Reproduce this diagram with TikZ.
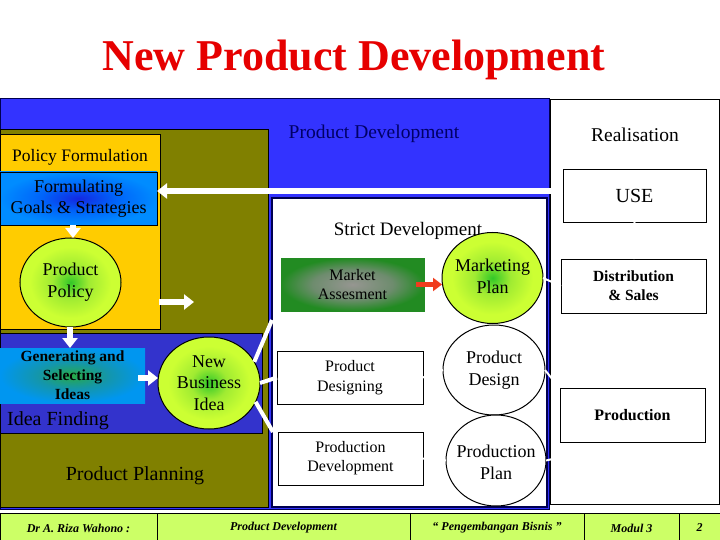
\documentclass[tikz,border=0pt]{standalone}
\usepackage{fontspec}
\setmainfont{Liberation Serif}
\usetikzlibrary{shapes.geometric,arrows.meta}
\definecolor{bigblue}{RGB}{51,51,255}
\definecolor{olivebg}{RGB}{128,128,0}
\definecolor{yelbg}{RGB}{255,204,0}
\definecolor{ideablue}{RGB}{51,51,204}
\definecolor{footg}{RGB}{204,255,102}
\definecolor{titlered}{RGB}{230,0,0}
\definecolor{navytxt}{RGB}{0,0,102}
\definecolor{navyline}{RGB}{0,0,80}
\definecolor{ygout}{RGB}{204,255,51}
\definecolor{ygmid}{RGB}{160,235,50}
\definecolor{ygin}{RGB}{50,200,40}
\definecolor{fbout}{RGB}{0,140,255}
\definecolor{fbmid}{RGB}{0,100,250}
\definecolor{fbin}{RGB}{20,40,225}
\definecolor{gbout}{RGB}{0,150,240}
\definecolor{gbmid}{RGB}{20,150,170}
\definecolor{gbin}{RGB}{40,170,70}
\definecolor{maout}{RGB}{34,139,34}
\definecolor{mamid}{RGB}{110,140,110}
\definecolor{main}{RGB}{150,150,145}
\definecolor{redarrow}{RGB}{240,60,30}
\pgfdeclareradialshading{ballshade}{\pgfpoint{0bp}{0bp}}{color(0bp)=(ygin); color(9bp)=(ygmid); color(20bp)=(ygout); color(50bp)=(ygout)}
\pgfdeclareradialshading{fgshade}{\pgfpoint{0bp}{0bp}}{color(0bp)=(fbin); color(12bp)=(fbmid); color(25bp)=(fbout); color(50bp)=(fbout)}
\pgfdeclareradialshading{gsshade}{\pgfpoint{0bp}{0bp}}{color(0bp)=(gbin); color(12bp)=(gbmid); color(25bp)=(gbout); color(50bp)=(gbout)}
\pgfdeclareradialshading{mashade}{\pgfpoint{0bp}{0bp}}{color(0bp)=(main); color(14bp)=(mamid); color(25bp)=(maout); color(50bp)=(maout)}
\tikzset{
  txtbox/.style={rectangle, draw=black, line width=0.8pt, inner sep=0pt, outer sep=0pt, align=center},
  ball/.style={ellipse, draw=black, line width=1pt, inner sep=0pt, outer sep=0pt},
  greenball/.style={ball, shading=ballshade},
  txt/.style={align=center, inner sep=0pt},
  warrow/.style={draw=white, line width=6.5pt, -{Triangle[length=10pt,width=15pt]}},
  wline/.style={draw=white, line width=4pt},
  hline/.style={draw=white, line width=2pt},
  rarrow/.style={draw=redarrow, line width=5pt, -{Triangle[length=9pt,width=13pt]}},
  foot/.style={font=\fontsize{12}{14}\selectfont\bfseries\itshape, inner sep=0pt}
}
\begin{document}
\begin{tikzpicture}[x=1pt,y=-1pt]
\useasboundingbox (0,0) rectangle (720,540);
\fill[white] (0,0) rectangle (720,540);
% title
\node[txt, text=titlered, font=\fontsize{44}{48}\selectfont\bfseries] (title) at (354,60) {New Product Development};
% regions
\draw[navyline, fill=bigblue, line width=1pt] (0.5,99) rectangle (549,509);
\draw[black, fill=olivebg, line width=0.8pt] (0.5,129) rectangle (268,507);
\draw[black, fill=yelbg, line width=0.8pt] (0.5,134) rectangle (160,329);
\draw[black, fill=ideablue, line width=0.8pt] (0.5,333) rectangle (262,433);
\draw[navyline, fill=white, line width=1.2pt] (272,198) rectangle (547,507);
\draw[black, fill=white, line width=0.8pt] (550,99) rectangle (719.5,504);
% region labels
\node[txt, font=\fontsize{19.5}{22}\selectfont, text=navytxt] (lpd) at (374,134) {Product Development};
\node[txt, font=\fontsize{19.5}{22}\selectfont] (lreal) at (635,135) {Realisation};
\node[txt, font=\fontsize{17.5}{20}\selectfont] (lpf) at (80,157) {Policy Formulation};
\node[txt, font=\fontsize{20}{22}\selectfont, anchor=west] (lif) at (7,421) {Idea Finding};
\node[txt, font=\fontsize{20}{22}\selectfont] (lpp) at (135,476) {Product Planning};
\node[txt, font=\fontsize{19}{22}\selectfont] (lsd) at (408,231) {Strict Development};
% boxes
\node[txtbox, shading=fgshade, minimum width=157pt, minimum height=53pt, font=\fontsize{18}{21}\selectfont] (fgs) at (78.5,198.5) {Formulating\\Goals \& Strategies};
\node[rectangle, inner sep=0pt, outer sep=0pt, shading=gsshade, minimum width=145pt, minimum height=55pt, align=center, font=\fontsize{15.5}{19}\selectfont\bfseries] (gsi) at (72.5,375.5) {Generating and\\Selecting\\Ideas};
\node[txtbox, draw=maout, shading=mashade, minimum width=143pt, minimum height=53pt, font=\fontsize{16}{19}\selectfont] (ma) at (352.5,284.5) {Market\\Assesment};
\node[txtbox, fill=white, minimum width=146pt, minimum height=53pt, font=\fontsize{16}{20}\selectfont] (pdg) at (350,377.5) {Product\\Designing};
\node[txtbox, fill=white, minimum width=145pt, minimum height=53pt, font=\fontsize{16}{19}\selectfont] (pdev) at (350.5,458.5) {Production\\Development};
\node[txtbox, fill=white, minimum width=143pt, minimum height=53pt, font=\fontsize{20}{22}\selectfont] (use) at (634.5,195.5) {USE};
\node[txtbox, fill=white, minimum width=145pt, minimum height=54pt, font=\fontsize{15.5}{19}\selectfont\bfseries] (ds) at (633.5,286) {Distribution\\\& Sales};
\node[txtbox, fill=white, minimum width=145pt, minimum height=54pt, font=\fontsize{16}{19}\selectfont\bfseries] (prod) at (632.5,415) {Production};
% circles
\node[greenball, minimum width=101pt, minimum height=89pt] (pp) at (70.5,282.5) {};
\node[txt, font=\fontsize{18}{22}\selectfont] (ppt) at (pp.center) {Product\\Policy};
\node[greenball, minimum width=102pt, minimum height=92pt] (nbi) at (209,383) {};
\node[txt, font=\fontsize{18}{21.5}\selectfont] (nbit) at (nbi.center) {New\\Business\\Idea};
\node[greenball, minimum width=101pt, minimum height=91pt] (mp) at (492.5,278) {};
\node[txt, font=\fontsize{18}{22}\selectfont] (mpt) at ([yshift=2pt]mp.center) {Marketing\\Plan};
\node[ball, fill=white, minimum width=102pt, minimum height=90pt] (pd) at (494,370) {};
\node[txt, font=\fontsize{18}{22}\selectfont] (pdt) at (pd.center) {Product\\Design};
\node[ball, fill=white, minimum width=100pt, minimum height=91pt] (pplan) at (496,460.5) {};
\node[txt, font=\fontsize{18}{22}\selectfont] (pplant) at ([yshift=-2pt]pplan.center) {Production\\Plan};
% hidden white connectors
\coordinate (c5) at (557,385);
\coordinate (c4) at (557,458);
\draw[hline] (mp.east) -- (ds.west);
\draw[hline] (pdg.east) -- (pd.west);
\draw[hline] (pd.east) -- (c5);
\draw[hline] (pdev.east) -- (pplan.west);
\draw[hline] (pplan.east) -- (c4);
\draw[hline] (ds.north) -- (use.south);
% white arrows
\draw[warrow] ([yshift=4.5pt]use.west) -- ([yshift=7.5pt]fgs.east);
\draw[warrow] (fgs.south -| 73,0) -- (pp.north -| 73,0);
\draw[warrow] (pp.south -| 70,0) -- (gsi.north -| 70,0);
\coordinate (ra1) at (159,302);
\coordinate (ra2) at (194,302);
\draw[warrow] (ra1) -- (ra2);
\draw[warrow] ([xshift=-7pt,yshift=-2.5pt]gsi.east) -- ([yshift=5pt]nbi.west);
% white lines from new business idea
\coordinate (c1) at (272,320);
\coordinate (c3) at (273,432);
\draw[wline] (nbi.25) -- (c1);
\draw[wline] (nbi.east) -- (pdg.west);
\draw[wline] (nbi.-22) -- (c3);
% red arrow
\draw[rarrow] ([xshift=-8pt]ma.east) -- (mp.west |- ma.east);
% footer
\draw[black, fill=footg, line width=0.8pt] (0,513) rectangle (720,540);
\draw[black, line width=0.8pt] (157,513) -- (157,540) (410,513) -- (410,540) (584,513) -- (584,540) (679,513) -- (679,540);
\node[foot] (f1) at (78.5,528) {Dr A. Riza Wahono :};
\node[foot] (f2) at (283.5,528) {Product Development};
\node[foot] (f3) at (497,528) {“ Pengembangan Bisnis ”};
\node[foot] (f4) at (631.5,528) {Modul 3};
\node[foot] (f5) at (699.5,528) {2};
\end{tikzpicture}
\end{document}
